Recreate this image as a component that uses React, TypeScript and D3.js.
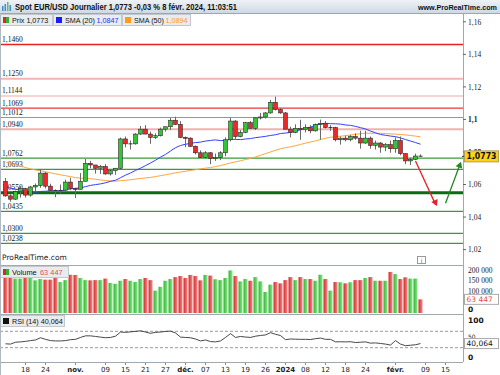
import React from "react";
import * as d3 from "d3";

// closes before the first visible candle, only used for the moving averages
const priorCloses = [
  1.1005, 1.1, 1.0955, 1.0975, 1.098, 1.095, 1.0905, 1.0905, 1.0875, 1.0875,
  1.087, 1.0895, 1.0845, 1.086, 1.081, 1.0795, 1.0815, 1.088, 1.092, 1.0845,
  1.0775, 1.0795, 1.0725, 1.0725, 1.0695, 1.07, 1.075, 1.0755, 1.073, 1.0645,
  1.066, 1.069, 1.068, 1.066, 1.066, 1.0645, 1.059, 1.057, 1.0505, 1.0565,
  1.0575, 1.0475, 1.047, 1.0505, 1.055, 1.059, 1.0565, 1.0605, 1.062,
];

const opens = [
  1.0619, 1.053, 1.051, 1.0557, 1.0575, 1.0535, 1.0585, 1.0594, 1.067, 1.059,
  1.0565, 1.0562, 1.0565, 1.0615, 1.0575, 1.057, 1.062, 1.073, 1.072, 1.07,
  1.071, 1.0665, 1.0685, 1.07, 1.088, 1.085, 1.085, 1.091, 1.094, 1.091,
  1.089, 1.09, 1.094, 1.0955, 1.0995, 1.097, 1.089, 1.0885, 1.0835, 1.0795,
  1.0765, 1.0795, 1.076, 1.0765, 1.0795, 1.0875, 1.099, 1.0895, 1.092, 1.098,
  1.0945, 1.101, 1.1015, 1.104, 1.1105, 1.106, 1.104, 1.094, 1.092, 1.0945,
  1.094, 1.095, 1.093, 1.097, 1.0975, 1.095, 1.095, 1.0875, 1.0885, 1.0875,
  1.0895, 1.0885, 1.0855, 1.0885, 1.084, 1.0855, 1.083, 1.0845, 1.082, 1.087,
  1.079, 1.0745, 1.0755, 1.0775,
];
const highs = [
  1.064, 1.054, 1.0563, 1.059, 1.058, 1.0592, 1.0606, 1.0695, 1.0675, 1.0605,
  1.057, 1.06, 1.063, 1.0642, 1.058, 1.067, 1.0757, 1.0745, 1.072, 1.072,
  1.0725, 1.0695, 1.07, 1.0888, 1.0895, 1.087, 1.0915, 1.096, 1.0965, 1.0925,
  1.0915, 1.095, 1.0955, 1.101, 1.1017, 1.099, 1.0895, 1.089, 1.084, 1.081,
  1.0805, 1.08, 1.079, 1.0805, 1.089, 1.101, 1.0995, 1.0935, 1.0985, 1.099,
  1.101, 1.104, 1.1045, 1.112, 1.114, 1.107, 1.1045, 1.0955, 1.097, 1.0998,
  1.097, 1.0965, 1.0975, 1.0999, 1.099, 1.0965, 1.0955, 1.0895, 1.09, 1.0905,
  1.0915, 1.093, 1.093, 1.0895, 1.087, 1.086, 1.0855, 1.087, 1.089, 1.0895,
  1.079, 1.0765, 1.079, 1.0785,
];
const lows = [
  1.0525, 1.0495, 1.0505, 1.052, 1.052, 1.0525, 1.056, 1.058, 1.0576, 1.0555,
  1.0522, 1.0545, 1.056, 1.0565, 1.0517, 1.057, 1.062, 1.07, 1.0667, 1.0665,
  1.066, 1.0655, 1.066, 1.0695, 1.0828, 1.0815, 1.0845, 1.0905, 1.091, 1.085,
  1.088, 1.0895, 1.0925, 1.0935, 1.0965, 1.0885, 1.083, 1.083, 1.0785, 1.0765,
  1.076, 1.0725, 1.0745, 1.075, 1.0773, 1.0865, 1.088, 1.089, 1.0915, 1.0945,
  1.0935, 1.1, 1.1005, 1.1035, 1.1055, 1.1035, 1.094, 1.089, 1.0915, 1.0875,
  1.092, 1.0915, 1.0925, 1.0875, 1.0945, 1.093, 1.0865, 1.0845, 1.0865, 1.0865,
  1.0875, 1.082, 1.085, 1.082, 1.0815, 1.0795, 1.0805, 1.0795, 1.0795, 1.078,
  1.0725, 1.072, 1.075, 1.077,
];
const closes = [
  1.053, 1.051, 1.0557, 1.0575, 1.0535, 1.0585, 1.0594, 1.067, 1.059, 1.0565,
  1.0562, 1.0565, 1.0615, 1.0575, 1.057, 1.062, 1.073, 1.072, 1.07, 1.071,
  1.0665, 1.0685, 1.07, 1.088, 1.085, 1.085, 1.091, 1.094, 1.091, 1.089,
  1.09, 1.094, 1.0955, 1.0995, 1.097, 1.089, 1.0885, 1.0835, 1.0795, 1.0765,
  1.0795, 1.076, 1.0765, 1.0795, 1.0875, 1.099, 1.0895, 1.092, 1.098, 1.0945,
  1.101, 1.1015, 1.104, 1.1105, 1.106, 1.104, 1.094, 1.092, 1.0945, 1.094,
  1.095, 1.093, 1.097, 1.0975, 1.095, 1.095, 1.0875, 1.0885, 1.0875, 1.0895,
  1.0885, 1.0855, 1.0885, 1.084, 1.0855, 1.083, 1.0845, 1.082, 1.087, 1.079,
  1.0745, 1.0755, 1.0775, 1.0773,
];

// volume in thousands
const volumes = [
  166, 163, 160, 160, 170, 170, 152, 158, 155, 155,
  163, 144, 153, 178, 177, 163, 153, 152, 153, 153,
  160, 140, 136, 150, 158, 150, 144, 158, 163, 153,
  104, 122, 150, 158, 167, 172, 163, 177, 172, 152,
  177, 174, 157, 153, 163, 198, 172, 147, 158, 150,
  167, 147, 98, 132, 144, 138, 153, 167, 153, 167,
  158, 158, 150, 178, 158, 104, 144, 143, 138, 143,
  153, 153, 163, 167, 150, 150, 150, 191, 181, 158,
  166, 160, 160, 63.447,
];

const rsi = [
  39.5, 38.8, 43.4, 44.2, 45.5, 47.3, 48.8, 54.3, 50.4, 47.3,
  46.5, 46.5, 47.3, 49.6, 50.4, 55.0, 58.9, 58.9, 57.4, 55.8,
  54.3, 55.0, 58.1, 68.2, 67.4, 68.6, 69.8, 71.3, 68.2, 65.1,
  67.4, 68.2, 69.6, 70.5, 65.9, 55.8, 55.0, 54.3, 51.2, 46.5,
  48.8, 45.0, 44.2, 46.5, 55.0, 64.3, 55.0, 57.4, 56.0, 55.0,
  58.1, 59.8, 61.2, 66.7, 62.8, 59.6, 49.6, 51.2, 50.8, 50.4,
  50.4, 50.0, 52.0, 53.5, 50.4, 50.4, 44.2, 44.5, 44.2, 44.6,
  42.6, 43.4, 44.2, 41.1, 41.7, 40.3, 38.8, 36.4, 47.3, 38.8,
  34.9, 36.0, 37.2, 40.064,
];

const resistances = [1.146, 1.125, 1.1144, 1.1069, 1.1012, 1.094];
const resistanceLabels = ["1,1460", "1,1250", "1,1144", "1,1069", "1,1012", "1,0940"];
const resistanceColors = ["#e82020", "#f4b4b4", "#f6c4c4", "#e83838", "#f07070", "#f4b0b0"];
const resistanceWidths = [1.5, 2, 1.5, 1.2, 1.2, 2];

const supports = [1.0762, 1.0693, 1.055, 1.0435, 1.03, 1.0238];
const supportLabels = ["1,0762", "1,0693", "1,0550", "1,0435", "1,0300", "1,0238"];
const supportWidths = [1.2, 1.2, 3, 1.2, 1.2, 1.2];

const priceTicks = [1.16, 1.14, 1.12, 1.1, 1.08, 1.06, 1.04, 1.02];
const priceTickLabels = ["1,16", "1,14", "1,12", "1,1", "1,08", "1,06", "1,04", "1,02"];

const volTicks = [200, 150, 100];
const volTickLabels = ["200 000", "150 000", "100 000"];

const xTickIdx = [4, 8, 14, 20, 24, 28, 32, 36, 40, 44, 48, 52, 56, 60, 64, 68, 72, 78, 84, 88];
const xTickLabels = ["18", "24", "nov.", "09", "15", "21", "27", "déc.", "07", "13", "19", "26", "2024", "08", "12", "18", "24", "févr.", "09", "15"];
const boldTicks = ["nov.", "déc.", "2024", "févr."];

const sans = "DejaVu Sans, Verdana, sans-serif";
const narrow = "Liberation Sans, Arial, sans-serif";

// arrow head path at (x2,y2) pointing away from (x1,y1)
const arrowHead = (x1: number, y1: number, x2: number, y2: number) => {
  const ang = Math.atan2(y2 - y1, x2 - x1);
  const l = 6, w = 3.5;
  const bx = x2 - l * Math.cos(ang), by = y2 - l * Math.sin(ang);
  return `M${x2},${y2}L${bx + w * Math.sin(ang)},${by - w * Math.cos(ang)}L${bx - w * Math.sin(ang)},${by + w * Math.cos(ang)}Z`;
};

export default function App() {
  const x = d3.scaleLinear().domain([0, 88]).range([5.5, 445.5]);
  const y = d3.scaleLinear().domain([1.02, 1.16]).range([249.6, 21.8]);
  const vy = d3.scaleLinear().domain([0, 200]).range([313, 270]);
  const ry = d3.scaleLinear().domain([0, 100]).range([360, 319]);

  const allCloses = [...priorCloses, ...closes];
  const sma = (n: number) =>
    closes.map((_, i) => {
      const end = i + priorCloses.length + 1;
      return d3.mean(allCloses.slice(end - n, end)) as number;
    });
  const sma20 = sma(20);
  const sma50 = sma(50);

  const line = d3
    .line<number>()
    .x((_, i) => x(i))
    .y((d) => y(d))
    .curve(d3.curveMonotoneX);
  const rsiLine = d3
    .line<number>()
    .x((_, i) => x(i))
    .y((d) => ry(d));

  const plotRight = 463;
  const last = closes[closes.length - 1];

  return (
    <svg width={500} height={375} style={{ position: "absolute", left: 0, top: 0 }} fontFamily={sans}>
      <defs>
        <linearGradient id="hdr" x1="0" y1="0" x2="0" y2="1">
          <stop offset="0" stopColor="#eef2f6" />
          <stop offset="1" stopColor="#cfd9e3" />
        </linearGradient>
        <linearGradient id="vred" x1="0" y1="0" x2="1" y2="0">
          <stop offset="0" stopColor="#d42a2a" />
          <stop offset="1" stopColor="#f58a8a" />
        </linearGradient>
        <linearGradient id="vgreen" x1="0" y1="0" x2="1" y2="0">
          <stop offset="0" stopColor="#2fb52f" />
          <stop offset="1" stopColor="#8ee88e" />
        </linearGradient>
        <clipPath id="pclip">
          <rect x={1} y={13} width={plotRight - 1} height={252} />
        </clipPath>
      </defs>

      <rect width={500} height={375} fill="#fff" />

      {/* header */}
      <rect x={0} y={0} width={500} height={13} fill="url(#hdr)" />
      <line x1={0} x2={500} y1={13.5} y2={13.5} stroke="#9aa8b6" />
      <g>
        <rect x={2} y={6} width={1.5} height={5} fill="#3a8fd8" />
        <rect x={4.5} y={4} width={1.5} height={7} fill="#3a8fd8" />
        <rect x={7} y={2} width={1.5} height={9} fill="#5cc05c" />
        <rect x={9.5} y={5} width={1.5} height={6} fill="#3a8fd8" />
      </g>
      <text x={15} y={10} fontSize={8.2} fontWeight="bold" fill="#111" fontFamily={narrow} textLength={222} lengthAdjust="spacingAndGlyphs">
        Spot EUR/USD Journalier 1,0773 -0,03 % 8 févr. 2024, 11:03:51
      </text>
      <text x={497} y={10} fontSize={7.2} fontWeight="bold" fill="#111" fontFamily={narrow} textAnchor="end">
        www.ProRealTime.com
      </text>

      {/* price panel */}
      <g clipPath="url(#pclip)">
        {resistances.map((p, i) => (
          <line key={"r" + i} x1={0} x2={plotRight} y1={y(p)} y2={y(p)} stroke={resistanceColors[i]} strokeWidth={resistanceWidths[i]} />
        ))}
        {supports.map((p, i) => (
          <line key={"s" + i} x1={0} x2={plotRight} y1={y(p)} y2={y(p)} stroke={i === 2 ? "#0b6b12" : "#3a9a3a"} strokeWidth={supportWidths[i]} />
        ))}
        {resistances.map((p, i) => (
          <text key={"rl" + i} x={2} y={y(p) - 2.5} fontSize={7.5} fill="#111" fontFamily="Liberation Serif, serif">
            {resistanceLabels[i]}
          </text>
        ))}
        {supports.map((p, i) => (
          <text key={"sl" + i} x={2} y={y(p) - (i === 2 ? 3 : 2.5)} fontSize={7.5} fill="#111" fontFamily="Liberation Serif, serif">
            {supportLabels[i]}
          </text>
        ))}

        <path d={line(sma50) || ""} fill="none" stroke="#ffa53a" strokeWidth={1} />
        <path d={line(sma20) || ""} fill="none" stroke="#3340ff" strokeWidth={1} />

        {closes.map((c, i) => {
          const o = opens[i];
          const up = c > o;
          const top = y(Math.max(o, c));
          const bot = y(Math.min(o, c));
          const cx = x(i);
          return (
            <g key={"c" + i}>
              <line x1={cx} x2={cx} y1={y(highs[i])} y2={y(lows[i])} stroke="#6a6a6a" strokeWidth={1} />
              {Math.abs(c - o) < 0.0004 ? (
                <line x1={cx - 2} x2={cx + 2} y1={(top + bot) / 2} y2={(top + bot) / 2} stroke="#333" strokeWidth={1} />
              ) : (
                <rect x={cx - 1.9} y={top} width={3.8} height={Math.max(bot - top, 1)} fill={up ? "#35c435" : "#e82a2a"} stroke="#2a2a2a" strokeWidth={0.6} />
              )}
            </g>
          );
        })}

        {/* forecast arrows */}
        <g stroke="#e8202a" fill="#e8202a" strokeWidth={1.3}>
          <line x1={x(82)} y1={y(1.0744)} x2={x(86)} y2={y(1.0478)} />
          <path d={arrowHead(x(82), y(1.0744), x(86.3), y(1.0468))} stroke="none" />
        </g>
        <g stroke="#1e8a1e" fill="#1e8a1e" strokeWidth={1.3}>
          <line x1={x(88)} y1={y(1.0485)} x2={x(90.8)} y2={y(1.0715)} />
          <path d={arrowHead(x(88), y(1.0485), x(91.1), y(1.074))} stroke="none" />
        </g>
      </g>

      {/* legend row */}
      <g fontSize={7.2} fontFamily={narrow}>
        <rect x={0.5} y={14.5} width={52} height={11} fill="#e9ecef" stroke="#c4c8cc" />
        <rect x={3} y={17} width={3} height={6} fill="#d42a2a" />
        <rect x={6} y={17} width={3} height={6} fill="#2fb52f" />
        <text x={12} y={23} fill="#111">Prix 1,0773</text>
        <rect x={53.5} y={14.5} width={68} height={11} fill="#e9ecef" stroke="#c4c8cc" />
        <rect x={56} y={17} width={6} height={6} fill="#1a1aff" />
        <text x={65} y={23} fill="#111">SMA (20)</text>
        <text x={96.5} y={23} fill="#2a2aff">1,0847</text>
        <rect x={122.5} y={14.5} width={68} height={11} fill="#e9ecef" stroke="#c4c8cc" />
        <rect x={125} y={17} width={6} height={6} fill="#ff9a1a" />
        <text x={134} y={23} fill="#111">SMA (50)</text>
        <text x={165.5} y={23} fill="#ff9a1a">1,0894</text>
      </g>

      {/* right price axis */}
      <line x1={plotRight + 0.5} x2={plotRight + 0.5} y1={13} y2={362} stroke="#a0a8b0" />
      {priceTicks.map((p, i) => (
        <g key={"pt" + i}>
          <line x1={plotRight} x2={plotRight + 3} y1={y(p)} y2={y(p)} stroke="#666" />
          <text x={plotRight + 5} y={y(p) + 2.8} fontSize={7.5} fill="#222" fontWeight={p === 1.1 || p === 1.08 ? "bold" : "normal"} fontFamily="Liberation Serif, serif">
            {priceTickLabels[i]}
          </text>
        </g>
      ))}
      <line x1={plotRight - 1} x2={plotRight + 2} y1={y(last)} y2={y(last)} stroke="#333" />
      <rect x={plotRight + 1.5} y={y(last) - 5.5} width={34} height={11} fill="#ffd21a" stroke="#b0a060" />
      <text x={plotRight + 3.5} y={y(last) + 3} fontSize={8.2} fontWeight="bold" fill="#111" textLength={30} lengthAdjust="spacingAndGlyphs">
        1,0773
      </text>

      <text x={2} y={260} fontSize={7.5} fill="#222">ProRealTime.com</text>
      <rect x={417.5} y={256.5} width={8} height={7} fill="#fff" stroke="#999" />
      <text x={421.5} y={262.5} fontSize={6} fill="#666" textAnchor="middle">i</text>

      <line x1={0} x2={plotRight} y1={265.5} y2={265.5} stroke="#a0a8b0" />

      {/* volume panel */}
      {volumes.map((v, i) => (
        <rect key={"v" + i} x={x(i) - 2} y={vy(v)} width={4} height={vy(0) - vy(v)} fill={closes[i] >= opens[i] ? "url(#vgreen)" : "url(#vred)"} />
      ))}
      <g fontFamily={narrow} fontSize={7.4}>
        <rect x={0.5} y={266.5} width={68} height={11} fill="#e9ecef" stroke="#c4c8cc" />
        <rect x={3} y={269} width={3} height={6} fill="#d42a2a" />
        <rect x={6} y={269} width={3} height={6} fill="#2fb52f" />
        <text x={12} y={275} fill="#111">Volume</text>
        <text x={40} y={275} fill="#e05050">63 447</text>
      </g>
      {volTicks.map((v, i) => (
        <text key={"vt" + i} x={plotRight + 5} y={vy(v) + 2.5} fontSize={7.5} fill="#222" fontFamily="Liberation Serif, serif">
          {volTickLabels[i]}
        </text>
      ))}
      <rect x={plotRight + 1.5} y={vy(63.447) - 5} width={34} height={10} fill="#fff" stroke="#aaa" />
      <text x={plotRight + 3.5} y={vy(63.447) + 2.8} fontSize={7.5} fill="#e05050">63 447</text>
      <text x={plotRight + 5} y={312} fontSize={7.5} fontWeight="bold" fill="#111">0</text>

      <line x1={0} x2={plotRight} y1={314.5} y2={314.5} stroke="#a0a8b0" />

      {/* RSI panel */}
      <line x1={0} x2={plotRight} y1={ry(70)} y2={ry(70)} stroke="#999" strokeDasharray="3,2" />
      <line x1={0} x2={plotRight} y1={ry(30)} y2={ry(30)} stroke="#999" strokeDasharray="3,2" />
      <path d={rsiLine(rsi) || ""} fill="none" stroke="#333" strokeWidth={0.9} />
      <rect x={0.5} y={315.5} width={64} height={11} fill="#e9ecef" stroke="#c4c8cc" />
      <rect x={3} y={318} width={6} height={6} fill="#111" />
      <text x={12} y={324} fontSize={7.2} fill="#111" fontFamily={narrow}>RSI (14) 40,064</text>
      <text x={plotRight + 5} y={323} fontSize={7.5} fontWeight="bold" fill="#111">100</text>
      <text x={plotRight + 5} y={ry(50) - 1} fontSize={6} fill="#222">50</text>
      <rect x={plotRight + 1.5} y={ry(40.064) - 5} width={34} height={10} fill="#fff" stroke="#aaa" />
      <text x={plotRight + 3.5} y={ry(40.064) + 2.8} fontSize={7.5} fill="#111">40,064</text>
      <text x={plotRight + 5} y={360} fontSize={7.5} fontWeight="bold" fill="#111">0</text>

      <line x1={0} x2={plotRight} y1={362.5} y2={362.5} stroke="#a0a8b0" />

      {/* x axis */}
      {xTickIdx.map((t, i) => (
        <g key={"xt" + i}>
          <line x1={x(t)} x2={x(t)} y1={363} y2={365} stroke="#888" />
          <text x={x(t)} y={372} fontSize={7} textAnchor="middle" fill="#222" fontWeight={boldTicks.includes(xTickLabels[i]) ? "bold" : "normal"}>
            {xTickLabels[i]}
          </text>
        </g>
      ))}

      <line x1={0.5} x2={0.5} y1={13} y2={375} stroke="#b0b8c0" />
    </svg>
  );
}
